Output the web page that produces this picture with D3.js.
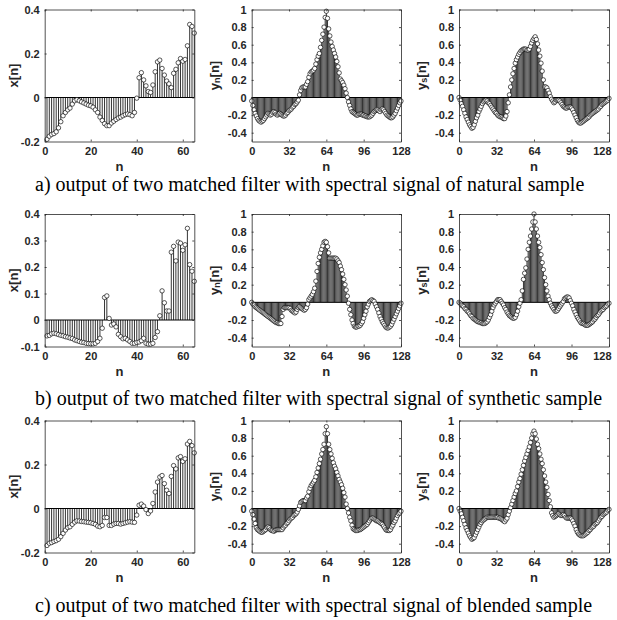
<!DOCTYPE html>
<html><head><meta charset="utf-8">
<script src="https://cdn.jsdelivr.net/npm/d3@7"></script>
<style>body{margin:0;background:#fff}</style>
</head><body><svg id="c" width="617" height="620"></svg>
<script>
const nX = d3.range(1, 66);
const nY = d3.range(0, 129);

const xNatural = [-0.19,-0.176,-0.168,-0.164,-0.156,-0.138,-0.11,-0.083,-0.068,-0.056,
-0.048,-0.03,-0.015,-0.01,-0.015,-0.02,-0.025,-0.03,-0.035,-0.038,
-0.044,-0.056,-0.068,-0.089,-0.104,-0.119,-0.128,-0.128,-0.116,-0.108,
-0.1,-0.093,-0.089,-0.083,-0.078,-0.075,-0.078,-0.083,-0.068,-0.003,
0.09,0.113,0.08,0.053,0.027,0.023,0.057,0.117,0.162,0.17,
0.132,0.102,0.075,0.062,0.045,0.11,0.128,0.158,0.177,0.165,
0.173,0.235,0.332,0.323,0.293];
const xSynthetic = [-0.06,-0.058,-0.052,-0.05,-0.052,-0.055,-0.058,-0.06,-0.063,-0.065,
-0.068,-0.07,-0.075,-0.078,-0.081,-0.084,-0.085,-0.088,-0.089,-0.09,
-0.09,-0.088,-0.081,-0.069,-0.031,0.085,0.091,0.006,-0.019,-0.015,
-0.026,-0.054,-0.063,-0.071,-0.069,-0.075,-0.081,-0.088,-0.088,-0.085,
-0.083,-0.078,-0.069,-0.088,-0.091,-0.091,-0.088,-0.066,-0.044,0.016,
0.11,0.065,0.034,0.034,0.256,0.278,0.223,0.294,0.29,0.263,
0.284,0.346,0.209,0.184,0.146];
const xBlended = [-0.168,-0.158,-0.155,-0.15,-0.146,-0.14,-0.128,-0.113,-0.098,-0.087,
-0.083,-0.072,-0.062,-0.056,-0.057,-0.059,-0.06,-0.062,-0.063,-0.065,
-0.068,-0.072,-0.08,-0.083,-0.077,-0.041,-0.041,-0.077,-0.077,-0.071,
-0.068,-0.068,-0.071,-0.068,-0.065,-0.062,-0.06,-0.062,-0.063,-0.03,
0.015,0.02,0.011,-0.005,-0.023,-0.011,0.023,0.075,0.12,0.143,
0.15,0.113,0.083,0.068,0.146,0.195,0.18,0.23,0.236,0.214,
0.226,0.293,0.305,0.286,0.253];

const ynNatural = [-0.04,-0.09,-0.14,-0.18,-0.21,-0.24,-0.26,-0.27,-0.28,-0.27,
-0.26,-0.24,-0.22,-0.2,-0.18,-0.19,-0.2,-0.19,-0.17,-0.16,
-0.17,-0.19,-0.2,-0.19,-0.18,-0.19,-0.2,-0.21,-0.21,-0.2,
-0.18,-0.17,-0.15,-0.14,-0.13,-0.11,-0.1,-0.08,-0.07,-0.05,
-0.03,0.03,0.08,0.11,0.12,0.12,0.12,0.15,0.18,0.23,
0.27,0.29,0.3,0.31,0.33,0.38,0.43,0.47,0.5,0.57,
0.65,0.72,0.8,0.91,0.98,0.9,0.78,0.7,0.63,0.58,
0.54,0.5,0.46,0.41,0.35,0.28,0.21,0.19,0.17,0.14,
0.1,0.05,0,-0.05,-0.09,-0.13,-0.16,-0.17,-0.18,-0.19,
-0.2,-0.2,-0.19,-0.19,-0.19,-0.2,-0.2,-0.21,-0.21,-0.22,
-0.22,-0.22,-0.21,-0.2,-0.18,-0.16,-0.15,-0.14,-0.14,-0.15,
-0.16,-0.14,-0.13,-0.14,-0.16,-0.18,-0.2,-0.21,-0.22,-0.23,
-0.23,-0.22,-0.2,-0.18,-0.15,-0.12,-0.09,-0.06,-0.04];
const ysNatural = [0,-0.03,-0.07,-0.1,-0.14,-0.18,-0.22,-0.25,-0.28,-0.31,
-0.33,-0.35,-0.34,-0.31,-0.27,-0.23,-0.2,-0.16,-0.13,-0.1,
-0.07,-0.05,-0.04,-0.03,-0.04,-0.06,-0.07,-0.09,-0.11,-0.13,
-0.15,-0.17,-0.18,-0.2,-0.21,-0.22,-0.22,-0.23,-0.24,-0.24,
-0.21,-0.16,-0.06,0.03,0.12,0.2,0.27,0.33,0.39,0.43,
0.46,0.49,0.51,0.53,0.54,0.55,0.55,0.55,0.54,0.54,
0.55,0.58,0.62,0.65,0.67,0.69,0.66,0.61,0.54,0.47,
0.39,0.3,0.2,0.12,0.12,0.11,0.08,0.05,0.01,-0.02,
-0.04,-0.06,-0.05,-0.03,-0.03,-0.03,-0.04,-0.06,-0.08,-0.1,
-0.11,-0.12,-0.12,-0.11,-0.11,-0.11,-0.12,-0.14,-0.17,-0.2,
-0.23,-0.26,-0.28,-0.29,-0.29,-0.28,-0.27,-0.26,-0.25,-0.24,
-0.23,-0.22,-0.2,-0.19,-0.18,-0.17,-0.16,-0.15,-0.14,-0.13,
-0.11,-0.1,-0.08,-0.07,-0.06,-0.05,-0.04,-0.03,-0.01];
const ynSynthetic = [0,-0.02,-0.03,-0.05,-0.06,-0.07,-0.08,-0.09,-0.1,-0.11,
-0.12,-0.13,-0.14,-0.15,-0.16,-0.17,-0.18,-0.19,-0.2,-0.21,
-0.22,-0.23,-0.23,-0.24,-0.24,-0.24,-0.16,-0.08,-0.06,-0.06,
-0.06,-0.06,-0.06,-0.07,-0.09,-0.1,-0.11,-0.12,-0.11,-0.08,
-0.06,-0.05,-0.06,-0.07,-0.08,-0.09,-0.08,-0.06,-0.02,0.03,
0.05,0.07,0.09,0.12,0.16,0.24,0.35,0.44,0.51,0.56,
0.6,0.64,0.68,0.69,0.68,0.63,0.56,0.5,0.5,0.5,
0.5,0.5,0.5,0.49,0.47,0.45,0.41,0.37,0.32,0.26,
0.2,0.14,0.07,-0.01,-0.08,-0.14,-0.2,-0.24,-0.27,-0.28,
-0.28,-0.27,-0.27,-0.26,-0.24,-0.22,-0.18,-0.14,-0.1,-0.05,
-0.02,0.01,0.02,0.03,0.02,0.01,-0.02,-0.05,-0.08,-0.12,
-0.16,-0.19,-0.22,-0.24,-0.26,-0.28,-0.29,-0.29,-0.28,-0.27,
-0.25,-0.22,-0.19,-0.16,-0.13,-0.1,-0.07,-0.04,-0.01];
const ysSynthetic = [0,-0.01,-0.03,-0.04,-0.05,-0.07,-0.08,-0.1,-0.11,-0.13,
-0.15,-0.16,-0.18,-0.19,-0.2,-0.21,-0.22,-0.22,-0.23,-0.23,
-0.24,-0.24,-0.24,-0.23,-0.22,-0.2,-0.17,-0.14,-0.1,-0.06,
-0.03,-0.01,0.01,0.03,0.03,0.03,0.01,-0.01,-0.03,-0.06,
-0.08,-0.11,-0.13,-0.15,-0.16,-0.17,-0.18,-0.18,-0.17,-0.14,
-0.1,-0.05,-0.01,0.03,0.13,0.26,0.33,0.39,0.49,0.6,
0.68,0.75,0.83,0.91,1,0.91,0.83,0.75,0.68,0.62,
0.54,0.45,0.37,0.28,0.2,0.13,0.07,0.03,-0.01,-0.04,
-0.06,-0.08,-0.1,-0.1,-0.09,-0.07,-0.05,-0.03,-0.01,0.01,
0.04,0.05,0.06,0.06,0.05,0.02,-0.01,-0.04,-0.08,-0.11,
-0.14,-0.17,-0.19,-0.21,-0.23,-0.24,-0.24,-0.25,-0.26,-0.26,
-0.26,-0.25,-0.24,-0.23,-0.22,-0.2,-0.19,-0.17,-0.15,-0.14,
-0.12,-0.1,-0.09,-0.08,-0.06,-0.05,-0.04,-0.02,-0.01];
const ynBlended = [-0.03,-0.07,-0.12,-0.17,-0.22,-0.24,-0.25,-0.26,-0.27,-0.27,
-0.26,-0.25,-0.24,-0.22,-0.21,-0.22,-0.24,-0.25,-0.25,-0.26,
-0.25,-0.24,-0.24,-0.24,-0.24,-0.24,-0.24,-0.22,-0.2,-0.19,
-0.17,-0.16,-0.14,-0.12,-0.11,-0.1,-0.08,-0.07,-0.06,-0.04,
-0.01,0.03,0.07,0.08,0.09,0.09,0.09,0.12,0.14,0.19,
0.23,0.26,0.28,0.3,0.32,0.36,0.41,0.46,0.51,0.56,
0.62,0.67,0.73,0.85,0.93,0.85,0.73,0.67,0.62,0.57,
0.52,0.48,0.45,0.41,0.37,0.33,0.3,0.27,0.23,0.18,
0.13,0.05,0,-0.05,-0.1,-0.14,-0.19,-0.23,-0.24,-0.25,
-0.25,-0.25,-0.24,-0.24,-0.23,-0.22,-0.21,-0.2,-0.19,-0.18,
-0.16,-0.14,-0.12,-0.11,-0.11,-0.12,-0.13,-0.14,-0.14,-0.15,
-0.16,-0.17,-0.18,-0.2,-0.22,-0.24,-0.25,-0.25,-0.25,-0.24,
-0.21,-0.19,-0.16,-0.14,-0.11,-0.08,-0.06,-0.05,-0.03];
const ysBlended = [0,-0.03,-0.06,-0.1,-0.14,-0.18,-0.22,-0.25,-0.28,-0.31,
-0.33,-0.35,-0.34,-0.33,-0.3,-0.27,-0.24,-0.21,-0.18,-0.16,
-0.14,-0.13,-0.12,-0.11,-0.1,-0.1,-0.1,-0.1,-0.1,-0.1,
-0.1,-0.1,-0.1,-0.1,-0.11,-0.11,-0.12,-0.13,-0.14,-0.15,
-0.13,-0.11,-0.07,-0.03,0.01,0.05,0.09,0.13,0.17,0.2,
0.25,0.3,0.34,0.39,0.44,0.49,0.54,0.58,0.62,0.66,
0.7,0.75,0.8,0.85,0.88,0.85,0.79,0.73,0.68,0.62,
0.56,0.51,0.44,0.37,0.3,0.24,0.16,0.09,0.02,-0.05,
-0.08,-0.1,-0.09,-0.08,-0.07,-0.06,-0.07,-0.08,-0.08,-0.07,
-0.08,-0.1,-0.11,-0.11,-0.11,-0.11,-0.12,-0.14,-0.17,-0.2,
-0.24,-0.27,-0.29,-0.3,-0.31,-0.31,-0.31,-0.3,-0.29,-0.28,
-0.27,-0.25,-0.24,-0.22,-0.21,-0.2,-0.18,-0.17,-0.16,-0.14,
-0.12,-0.1,-0.09,-0.07,-0.06,-0.05,-0.04,-0.02,-0.01];

const xTicksX = [0, 20, 40, 60];
const xTicksY = [0, 32, 64, 96, 128];
const yTicksXa = [-0.2, 0, 0.2, 0.4];
const yTicksXb = [-0.1, 0, 0.1, 0.2, 0.3, 0.4];
const yTicksY = [-0.4, -0.2, 0, 0.2, 0.4, 0.6, 0.8, 1];
const captions = [
  "a)  output of two matched filter with spectral signal of natural sample",
  "b)  output of two matched filter with spectral signal of synthetic sample",
  "c)  output of two matched filter with spectral signal of blended sample"
];

const svg = d3.select('#c');
const cols = [{l:44.7, r:194.3}, {l:251.7, r:401}, {l:459, r:609}];
const rows = [{t:9.5, b:141.5}, {t:214, b:346.5}, {t:420.5, b:552.5}];
const capY = [191, 405, 612];
const AX = '#262626';

function panel(ci, ri, ns, vals, xdom, ydom, xt, yt, lab, sub) {
  const c = cols[ci], r = rows[ri];
  const x = d3.scaleLinear().domain(xdom).range([c.l, c.r]);
  const y = d3.scaleLinear().domain(ydom).range([r.b, r.t]);
  const g = svg.append('g');
  g.append('g').selectAll('line').data(ns).join('line')
    .attr('x1', d => x(d)).attr('x2', d => x(d))
    .attr('y1', y(0)).attr('y2', (d, i) => y(vals[i]))
    .attr('stroke', '#000').attr('stroke-width', 0.8);
  g.append('line').attr('x1', c.l).attr('x2', c.r).attr('y1', y(0)).attr('y2', y(0))
    .attr('stroke', '#000').attr('stroke-width', 1);
  g.append('g').selectAll('circle').data(ns).join('circle')
    .attr('cx', d => x(d)).attr('cy', (d, i) => y(vals[i])).attr('r', 2.2)
    .attr('fill', '#fff').attr('stroke', '#000').attr('stroke-width', 0.65);

  const fmt = d => String(d);
  const styleAx = s => {
    s.select('.domain').attr('stroke', AX).attr('stroke-width', 0.8);
    s.selectAll('.tick line').attr('stroke', AX).attr('stroke-width', 0.8);
    s.selectAll('.tick text').attr('fill', AX).attr('font-family', 'Liberation Sans, Arial, sans-serif')
      .attr('font-weight', 'bold').attr('font-size', '11px');
  };
  const bx = g.append('g').attr('transform', `translate(0,${r.b})`)
    .call(d3.axisBottom(x).tickValues(xt).tickFormat(fmt).tickSizeInner(-2).tickSizeOuter(0).tickPadding(6)).call(styleAx);
  if (ci === 2) {
    bx.selectAll('.tick text').filter(d => d === 128).attr('text-anchor', 'end').attr('dx', 2);
  }
  g.append('g').attr('transform', `translate(0,${r.t})`)
    .call(d3.axisTop(x).tickValues(xt).tickFormat('').tickSizeInner(-2).tickSizeOuter(0)).call(styleAx);
  g.append('g').attr('transform', `translate(${c.l},0)`)
    .call(d3.axisLeft(y).tickValues(yt).tickFormat(fmt).tickSizeInner(-2).tickSizeOuter(0).tickPadding(5)).call(styleAx);
  g.append('g').attr('transform', `translate(${c.r},0)`)
    .call(d3.axisRight(y).tickValues(yt).tickFormat('').tickSizeInner(-2).tickSizeOuter(0)).call(styleAx);

  g.append('text').attr('x', (c.l + c.r) / 2).attr('y', r.b + 29)
    .attr('text-anchor', 'middle').attr('font-family', 'Liberation Sans, Arial, sans-serif')
    .attr('font-weight', 'bold').attr('font-size', '13px').attr('fill', AX).text('n');
  const lx = c.l - (ci === 0 ? 31.5 : 38), ly = (r.t + r.b) / 2;
  const t = g.append('text').attr('transform', `translate(${lx},${ly}) rotate(-90)`)
    .attr('text-anchor', 'middle').attr('dominant-baseline', 'central')
    .attr('font-family', 'Liberation Sans, Arial, sans-serif')
    .attr('font-weight', 'bold').attr('font-size', '13px').attr('fill', AX);
  if (sub) {
    t.append('tspan').text(lab);
    t.append('tspan').attr('font-size', '9px').attr('dy', 3).text(sub);
    t.append('tspan').attr('dy', -3).text('[n]');
  } else {
    t.text(lab);
  }
}

panel(0, 0, nX, xNatural, [0, 65], [-0.2, 0.4], xTicksX, yTicksXa, 'x[n]');
panel(1, 0, nY, ynNatural, [0, 128], [-0.5, 1], xTicksY, yTicksY, 'y', 'n');
panel(2, 0, nY, ysNatural, [0, 128], [-0.5, 1], xTicksY, yTicksY, 'y', 's');
panel(0, 1, nX, xSynthetic, [0, 65], [-0.1, 0.4], xTicksX, yTicksXb, 'x[n]');
panel(1, 1, nY, ynSynthetic, [0, 128], [-0.5, 1], xTicksY, yTicksY, 'y', 'n');
panel(2, 1, nY, ysSynthetic, [0, 128], [-0.5, 1], xTicksY, yTicksY, 'y', 's');
panel(0, 2, nX, xBlended, [0, 65], [-0.2, 0.4], xTicksX, yTicksXa, 'x[n]');
panel(1, 2, nY, ynBlended, [0, 128], [-0.5, 1], xTicksY, yTicksY, 'y', 'n');
panel(2, 2, nY, ysBlended, [0, 128], [-0.5, 1], xTicksY, yTicksY, 'y', 's');

svg.selectAll('text.cap').data(captions).join('text').attr('class', 'cap')
  .attr('x', 35).attr('y', (d, i) => capY[i])
  .attr('font-family', 'Liberation Serif, Times New Roman, serif').attr('font-size', '20px')
  .attr('fill', '#000').text(d => d);
</script>
</body></html>
